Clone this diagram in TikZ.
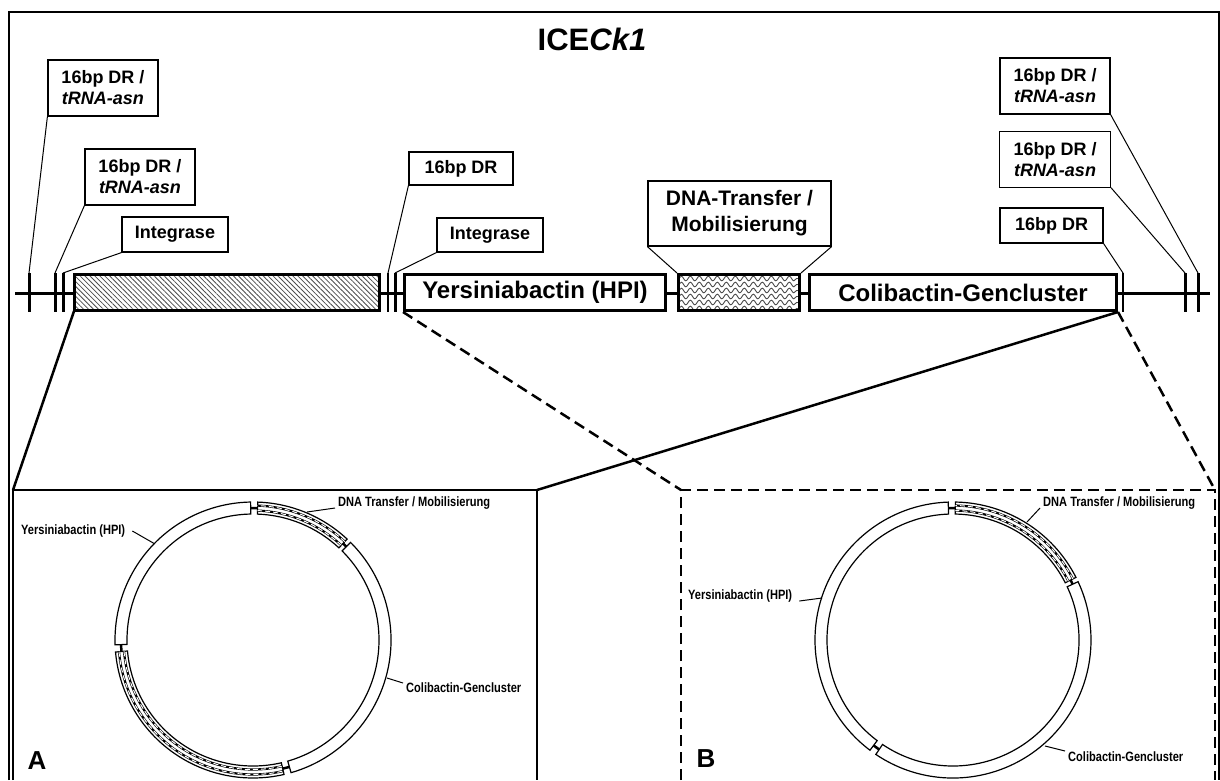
\documentclass[tikz,border=0pt]{standalone}
\usepackage{fontspec}
\setmainfont{Liberation Sans}
\newfontfamily\narrowsans[FakeStretch=0.82]{Liberation Sans}
\usetikzlibrary{positioning, patterns.meta, decorations.pathmorphing}

% ring segment: center, start angle, end angle, style
\newcommand{\ringseg}[4]{%
  \draw[#4, shift={(#1)}] (#2:138) arc[start angle=#2, end angle=#3, radius=138]
    -- (#3:126) arc[start angle=#3, end angle=#2, radius=126] -- cycle;}
\newcommand{\hatchseg}[3]{%
  \ringseg{#1}{#2}{#3}{ring}
  \foreach \rr in {129.5,134.5} {
    \draw[ringcore, shift={(#1)}] (#2:\rr) arc[start angle=#2, end angle=#3, radius=\rr];
    \draw[ringdash, shift={(#1)}] (#2:\rr) arc[start angle=#2, end angle=#3, radius=\rr];
  }}
\newcommand{\gapmark}[3]{%
  \draw[gapline, shift={(#1)}] (#2:132) arc[start angle=#2, end angle=#3, radius=132];}

\begin{document}
\begin{tikzpicture}[x=1pt, y=-1pt,
  gene/.style={draw, line width=3pt, fill=white, minimum height=36pt, inner sep=0pt, font=\fontsize{24}{24}\selectfont\bfseries},
  lbl/.style={draw, line width=1.2pt, fill=white, inner sep=0pt, align=center, font=\fontsize{18}{21}\selectfont\bfseries},
  ringlbl/.style={inner sep=3pt, font=\narrowsans\fontsize{13.5}{14}\selectfont\bfseries},
  panellbl/.style={inner sep=0pt, font=\fontsize{26}{26}\selectfont\bfseries},
  backbone/.style={line width=3pt},
  tick/.style={line width=3pt},
  thintick/.style={line width=1.6pt},
  leader/.style={line width=1pt},
  zoomline/.style={line width=2.5pt},
  zoomdash/.style={line width=2.5pt, dash pattern=on 11pt off 6pt},
  wave/.style={decorate, decoration={snake, segment length=9pt, amplitude=2.3pt}, draw=black!70, line width=0.9pt},
  ring/.style={draw, line width=1.2pt, fill=white},
  ringcore/.style={line width=2.2pt},
  ringdash/.style={white, line width=1pt, dash pattern=on 5pt off 3pt},
  gapline/.style={line width=2.5pt},
]
\useasboundingbox (0,0) rectangle (1220,780);
\fill[white] (0,0) rectangle (1220,780);
\draw[line width=1.5pt] (9,780) -- (9,12) -- (1219,12) -- (1219,780);

\node[font=\fontsize{31}{31}\selectfont\bfseries] (title) at (592,39) {ICE\textit{Ck1}};

% element map
\draw[backbone] (15,293) -- (1210,293);
\foreach \tx/\tn in {29/ta, 55/tb, 63/tc, 395/te, 1185/tg, 1198/th} {
  \coordinate (\tn) at (\tx,273);
  \draw[tick] (\tn) -- ++(0,39);
}
\foreach \tx/\tn in {388/td, 1123/tf} {
  \coordinate (\tn) at (\tx,273);
  \draw[thintick] (\tn) -- ++(0,39);
}

\node[gene, minimum width=305pt, preaction={fill=white},
      pattern={Lines[angle=-45, distance=3.5pt, line width=0.8pt]}, pattern color=black!70] (intA) at (227,292.5) {};
\node[gene, minimum width=261pt] (yer) at (535,292.5) {Yersiniabactin (HPI)};
\node[gene, minimum width=121pt, path picture={
        \foreach \yy in {-16,-10,...,20}
          \draw[wave] ([yshift=\yy pt]path picture bounding box.west) -- ([yshift=\yy pt]path picture bounding box.east);
      }] (dna) at (739,292.5) {};
\node[gene, minimum width=307pt] (col) at (963,292.5) {Colibactin-Gencluster};

\node[lbl, minimum width=110pt, minimum height=56pt] (drA) at (103,88) {16bp DR /\\\textit{tRNA-asn}};
\node[lbl, minimum width=110pt, minimum height=56pt] (drB) at (140,177) {16bp DR /\\\textit{tRNA-asn}};
\node[lbl, minimum width=106pt, minimum height=35pt] (intlabA) at (175,234.5) {Integrase};
\node[lbl, minimum width=104pt, minimum height=33pt] (drM) at (461,168.5) {16bp DR};
\node[lbl, minimum width=106pt, minimum height=34pt] (intlabB) at (490,235) {Integrase};
\node[lbl, minimum width=183pt, minimum height=65pt, font=\fontsize{21}{26}\selectfont\bfseries] (dnalab) at (739.5,213.5) {DNA-Transfer /\\Mobilisierung};
\node[lbl, minimum width=110pt, minimum height=56pt] (drR1) at (1055,86) {16bp DR /\\\textit{tRNA-asn}};
\node[lbl, minimum width=111pt, minimum height=56pt, below=16pt of drR1] (drR2) {16bp DR /\\\textit{tRNA-asn}};
\node[lbl, minimum width=103pt, minimum height=35pt] (drR3) at (1051.5,225.5) {16bp DR};

\draw[leader] (drA.south west) -- (ta);
\draw[leader] (drB.south west) -- (tb);
\draw[leader] (intlabA.south west) -- (tc);
\draw[leader] (drM.south west) -- (td);
\draw[leader] (intlabB.south west) -- (te);
\draw[leader] (dnalab.south west) -- (dna.north west);
\draw[leader] (dnalab.south east) -- (dna.north east);
\draw[leader] (drR1.south east) -- (th);
\draw[leader] (drR2.south east) -- (tg);
\draw[leader] (drR3.south east) -- (tf);

% zoom panels
\coordinate (pAnw) at (13,490);
\coordinate (pAne) at (537,490);
\coordinate (pBnw) at (681,490);
\coordinate (pBne) at (1215,490);
\draw[zoomline] (intA.south west) -- (pAnw);
\draw[zoomline] (col.south east) -- (pAne);
\draw[zoomdash] (yer.south west) -- (pBnw);
\draw[zoomdash] (col.south east) -- (pBne);
\draw[line width=2.5pt] (13,780) -- (pAnw) -- (pAne) -- (537,780);
\draw[zoomdash] (681,780) -- (pBnw) -- (pBne) -- (1215,780);

% circle A
\coordinate (cA) at (253,640);
\ringseg{cA}{-91}{-182}{ring}
\hatchseg{cA}{-185}{-283}
\ringseg{cA}{-286}{-405}{ring}
\hatchseg{cA}{-47}{-88}
\gapmark{cA}{-182}{-185}
\gapmark{cA}{-283}{-286}
\gapmark{cA}{-45}{-47}
\gapmark{cA}{-88}{-91}

\node[ringlbl, anchor=west] (yAlab) at (18,531) {Yersiniabactin (HPI)};
\node[ringlbl, anchor=west] (dAlab) at (335,503) {DNA Transfer / Mobilisierung};
\node[ringlbl, anchor=west] (cAlab) at (403,688) {Colibactin-Gencluster};
\coordinate (yAr) at (155,544);
\coordinate (dAr) at (307,512);
\coordinate (cAr) at (387,678);
\draw[leader] ([xshift=4pt]yAlab.east) -- (yAr);
\draw[leader] (dAr) -- ([yshift=-5pt]dAlab.west);
\draw[leader] (cAr) -- ([yshift=5pt]cAlab.west);
\node[panellbl] (lblA) at (37,761) {A};

% circle B
\coordinate (cB) at (953,640);
\ringseg{cB}{-92}{-233}{ring}
\ringseg{cB}{-236}{-385}{ring}
\hatchseg{cB}{-27}{-89}
\gapmark{cB}{-233}{-236}
\gapmark{cB}{-25}{-27}
\gapmark{cB}{-89}{-92}

\node[ringlbl, anchor=west] (yBlab) at (685,596) {Yersiniabactin (HPI)};
\node[ringlbl, anchor=west] (dBlab) at (1040,503) {DNA Transfer / Mobilisierung};
\node[ringlbl, anchor=west] (cBlab) at (1065,757) {Colibactin-Gencluster};
\coordinate (yBr) at (822,598);
\coordinate (dBr) at (1027,522);
\coordinate (cBr) at (1045,746);
\draw[leader] ([xshift=4pt, yshift=-5pt]yBlab.east) -- (yBr);
\draw[leader] (dBr) -- ([yshift=-5pt]dBlab.west);
\draw[leader] (cBr) -- ([yshift=6pt]cBlab.west);
\node[panellbl] (lblB) at (706,759) {B};
\end{tikzpicture}
\end{document}
